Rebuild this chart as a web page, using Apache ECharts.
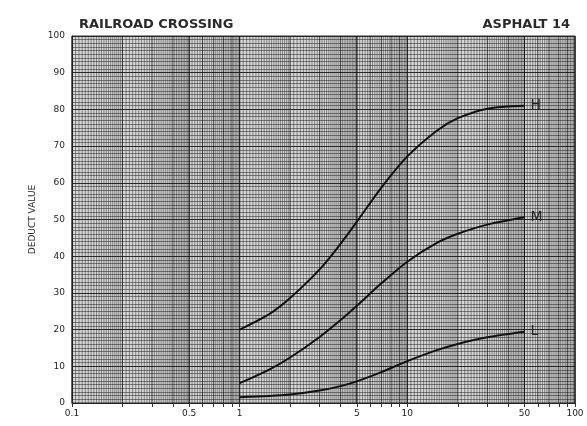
<!DOCTYPE html>
<html>
<head>
<meta charset="utf-8">
<script src="https://cdn.jsdelivr.net/npm/echarts@6/dist/echarts.min.js"></script>
<style>
html,body{margin:0;padding:0;background:#fff}
#main{width:587px;height:426px}
</style>
</head>
<body>
<div id="main"></div>
<script>
// 读图得到的数据
var xVals = [1, 1.5, 2, 3, 4, 5, 7, 10, 15, 20, 30, 50]
var high = [20, 24.2, 28.6, 36.4, 43.4, 49.4, 58.7, 67.2, 74.2, 77.6, 80.2, 81]
var medium = [5.4, 9.1, 12.4, 18, 22.6, 26.5, 32.6, 38.5, 43.6, 46.1, 48.6, 50.6]
var low = [1.6, 1.9, 2.3, 3.4, 4.6, 5.9, 8.4, 11.4, 14.4, 16.1, 17.9, 19.4]
var xLabels = [0.1, 0.5, 1, 5, 10, 50, 100]
var decades = [0.1, 1, 10]

// 对数纸竖线
function paperLines(){
	var out = []
	decades.forEach(function(d){
		var m
		for(m = 1; m < 2; m += 0.05) out.push([+(m*d).toFixed(4), Math.abs(m-Math.round(m))<1e-6 ? 1 : 0])
		for(m = 2; m < 5; m += 0.1) out.push([+(m*d).toFixed(4), Math.abs(m-Math.round(m))<1e-6 ? 1 : 0])
		for(m = 5; m < 10; m += 0.2) out.push([+(m*d).toFixed(4), Math.abs(m-Math.round(m))<1e-6 ? 1 : 0])
	})
	out.push([100, 1])
	return out
}
var xTicks = []
decades.forEach(function(d){
	for(var m = 1; m < 10; m++) xTicks.push(+(m*d).toFixed(4))
})
xTicks.push(100)

function pairs(ys){
	return xVals.map(function(x, i){ return [x, ys[i]] })
}

var chart = echarts.init(document.getElementById('main'))

var font = 'DejaVu Sans'
function curve(name, ys){
	return {
		name: name,
		type: 'line',
		data: pairs(ys),
		smooth: 0.3,
		showSymbol: false,
		z: 5,
		lineStyle: { color: '#111', width: 2 },
		endLabel: {
			show: true,
			formatter: '{a}',
			fontSize: 14,
			color: '#222',
			fontFamily: font,
			offset: [-2, 0]
		}
	}
}

chart.setOption({
	animation: false,
	title: [
		{ text: 'RAILROAD CROSSING', left: 74, top: 13, textStyle: { fontSize: 13, fontWeight: 'bold', color: '#2a2a2a', fontFamily: font } },
		{ text: 'ASPHALT 14', right: 12, top: 13, textStyle: { fontSize: 13, fontWeight: 'bold', color: '#2a2a2a', fontFamily: font } }
	],
	grid: { left: 72, right: 12, top: 36, bottom: 23, show: true, backgroundColor: '#d6d6d6', borderColor: '#333', borderWidth: 1 },
	xAxis: {
		type: 'log',
		logBase: 10,
		min: 0.1,
		max: 100,
		axisLine: { show: true, lineStyle: { color: '#222' } },
		axisTick: { show: true, customValues: xTicks, length: 4, lineStyle: { color: '#333' } },
		axisLabel: { customValues: xLabels, fontSize: 9, color: '#222', fontFamily: font, margin: 6 },
		splitLine: { show: false }
	},
	yAxis: {
		type: 'value',
		min: 0,
		max: 100,
		interval: 10,
		name: 'DEDUCT VALUE',
		nameLocation: 'middle',
		nameRotate: 90,
		nameGap: 33,
		nameTextStyle: { fontSize: 9, color: '#222', fontFamily: font },
		axisLine: { show: true, lineStyle: { color: '#222' } },
		axisTick: { show: false },
		axisLabel: { fontSize: 9, color: '#222', fontFamily: font, margin: 7 },
		splitLine: { show: true, lineStyle: { color: '#2a2a2a', width: 1 } },
		minorTick: { show: false, splitNumber: 10 },
		minorSplitLine: { show: true, lineStyle: { color: 'rgba(30,30,30,0.5)', width: 1 } }
	},
	series: [
		{
			type: 'custom',
			silent: true,
			z: 1,
			data: paperLines(),
			encode: { x: 0 },
			renderItem: function(params, api){
				var v = api.value(0)
				var p1 = api.coord([v, 0])
				var p2 = api.coord([v, 100])
				return {
					type: 'line',
					shape: { x1: p1[0], y1: p1[1], x2: p2[0], y2: p2[1] },
					style: { stroke: api.value(1) ? 'rgba(20,20,20,0.8)' : 'rgba(30,30,30,0.45)', lineWidth: 1 }
				}
			}
		},
		curve('H', high),
		curve('M', medium),
		curve('L', low)
	]
})
</script>
</body>
</html>
